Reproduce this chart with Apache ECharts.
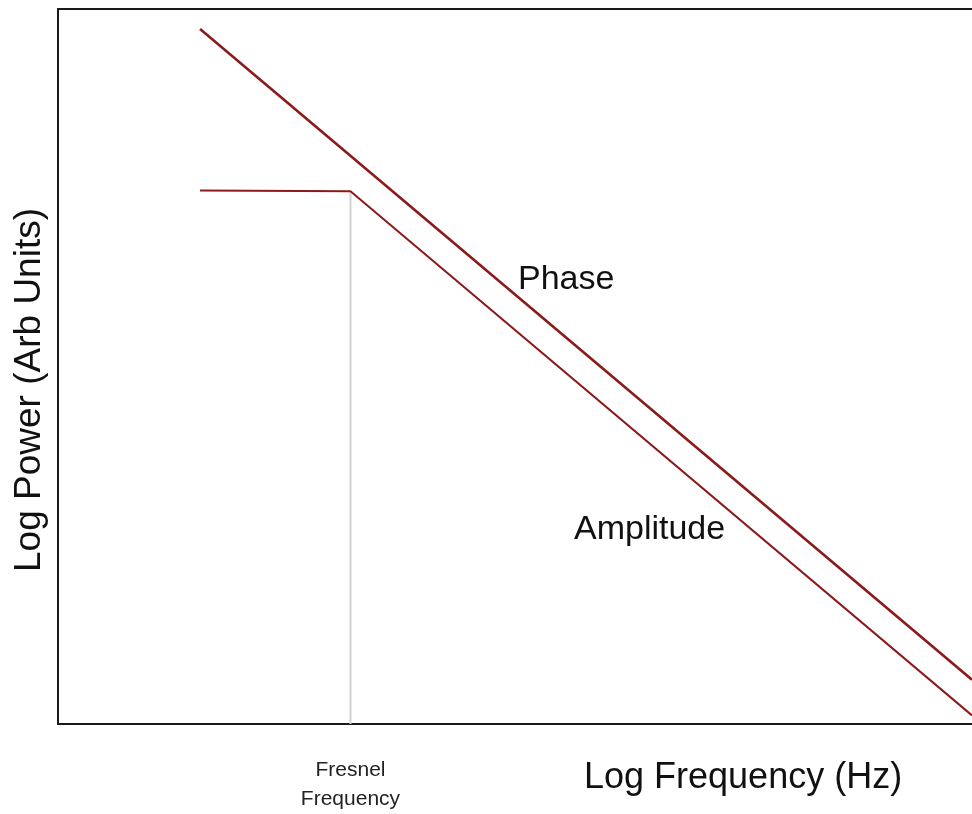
<!DOCTYPE html>
<html>
<head>
<meta charset="utf-8">
<script src="https://cdn.jsdelivr.net/npm/echarts@6/dist/echarts.min.js"></script>
<style>
html,body{margin:0;padding:0;background:#fff;}
#chart{width:972px;height:814px;}
</style>
</head>
<body>
<div id="chart"></div>
<script>
// Log frequency / log power (arbitrary units)
const phaseX = [1.554, 10];
const phaseY = [9.72, 0.62];
const ampX = [1.554, 3.2, 10];
const ampY = [7.46, 7.45, 0.12];
const fresnelX = 3.2;
const fresnelY = [0, 7.45];
const xTitle = 'Log Frequency (Hz)';
const yTitle = 'Log Power (Arb Units)';
const fresnelLabel = 'Fresnel\nFrequency';
const phaseLabel = 'Phase';
const ampLabel = 'Amplitude';

const zip = (xs, ys) => xs.map((x, i) => [x, ys[i]]);
const lineColor = '#8b1a1a';
const frameColor = '#1a1a1a';
const font = '"Liberation Sans", Arial, sans-serif';

const chart = echarts.init(document.getElementById('chart'), null, {renderer: 'canvas'});
chart.setOption({
  animation: false,
  backgroundColor: '#fff',
  grid: {left: 58, top: 9, right: 0, bottom: 86},
  xAxis: [{
    type: 'value', min: 0, max: 10, position: 'bottom',
    axisLine: {show: true, onZero: false, lineStyle: {color: frameColor, width: 2}},
    splitLine: {show: false},
    axisTick: {show: false},
    axisLabel: {
      customValues: [fresnelX], showMinLabel: false, showMaxLabel: false,
      formatter: () => fresnelLabel,
      fontFamily: font, fontSize: 21, lineHeight: 29, color: '#222', margin: 32
    }
  }, {
    type: 'value', min: 0, max: 10, position: 'top',
    axisLine: {show: true, onZero: false, lineStyle: {color: frameColor, width: 2}},
    splitLine: {show: false}, axisTick: {show: false}, axisLabel: {show: false}
  }],
  yAxis: {
    type: 'value', min: 0, max: 10, position: 'left',
    axisLine: {show: true, onZero: false, lineStyle: {color: frameColor, width: 2}},
    splitLine: {show: false},
    axisTick: {show: false}, axisLabel: {show: false}
  },
  series: [
    {type: 'line', name: 'Fresnel', data: zip([fresnelX, fresnelX], fresnelY), symbol: 'none',
     lineStyle: {color: '#d2d2d2', width: 2}, z: 1},
    {type: 'line', name: phaseLabel, data: zip(phaseX, phaseY), symbol: 'none',
     lineStyle: {color: lineColor, width: 2.6}, z: 3},
    {type: 'line', name: ampLabel, data: zip(ampX, ampY), symbol: 'none',
     lineStyle: {color: lineColor, width: 2}, z: 3}
  ],
  graphic: [
    {type: 'text', left: 518, top: 263, style: {text: phaseLabel, font: '34px ' + font, fill: '#111'}},
    {type: 'text', left: 574, top: 513, style: {text: ampLabel, font: '34px ' + font, fill: '#111'}},
    {type: 'text', left: 584, top: 760, style: {text: xTitle, font: '36px ' + font, fill: '#111'}},
    {type: 'text', left: 11, top: 208, rotation: Math.PI / 2,
     style: {text: yTitle, font: '37px ' + font, fill: '#111'}}
  ]
});
</script>
</body>
</html>
